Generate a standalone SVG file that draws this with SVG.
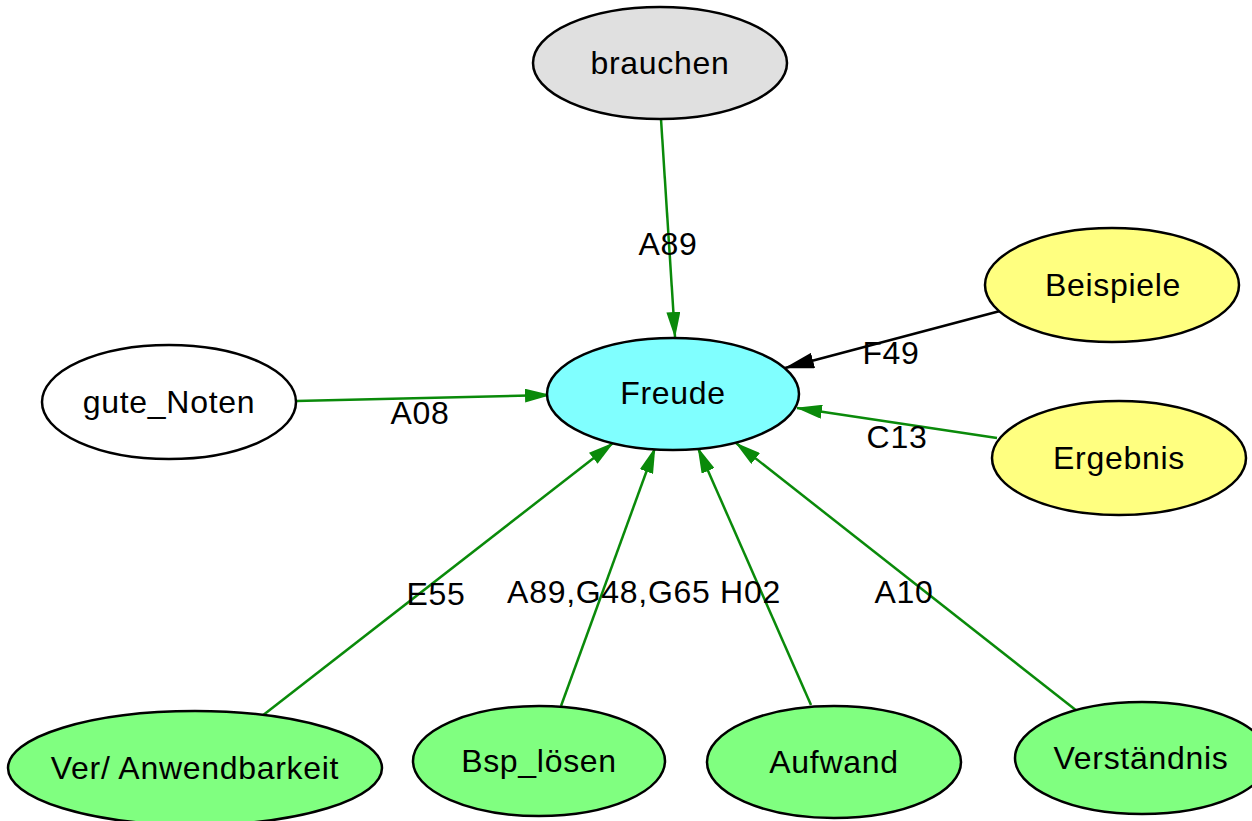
<svg xmlns="http://www.w3.org/2000/svg" width="1252" height="821" viewBox="0 0 1252 821">
<style>
.n{stroke:#000;stroke-width:2.5}
.t{font-family:"Liberation Sans",Arial,sans-serif;font-size:32px;letter-spacing:0.7px;fill:#000;text-anchor:middle}
.e{fill:none;stroke-width:2.5}
.g{stroke:#0a8a0a}
.k{stroke:#000}
</style>
<defs>
<marker id="ag" markerUnits="userSpaceOnUse" markerWidth="26" markerHeight="14" refX="25" refY="7" orient="auto"><path d="M0,0 L26,7 L0,14 z" fill="#0a8a0a"/></marker>
<marker id="ak" markerUnits="userSpaceOnUse" markerWidth="30" markerHeight="16" refX="29" refY="8" orient="auto"><path d="M0,0 L30,8 L0,16 z" fill="#000"/></marker>
</defs>
<rect width="1252" height="821" fill="#fff"/>
<g id="edges">
<line class="e g" x1="661" y1="119" x2="675" y2="337" marker-end="url(#ag)"/>
<line class="e k" x1="1000" y1="311" x2="785" y2="368" marker-end="url(#ak)"/>
<line class="e g" x1="997" y1="438" x2="797" y2="408" marker-end="url(#ag)"/>
<line class="e g" x1="296" y1="401" x2="550" y2="395" marker-end="url(#ag)"/>
<line class="e g" x1="262" y1="716" x2="613" y2="443" marker-end="url(#ag)"/>
<line class="e g" x1="561" y1="706" x2="655" y2="448" marker-end="url(#ag)"/>
<line class="e g" x1="811" y1="705" x2="698" y2="448" marker-end="url(#ag)"/>
<line class="e g" x1="1077" y1="711" x2="736" y2="443" marker-end="url(#ag)"/>
<text class="t" x="668" y="255">A89</text>
<text class="t" x="891" y="364">F49</text>
<text class="t" x="897" y="448">C13</text>
<text class="t" x="420" y="424">A08</text>
<text class="t" x="436" y="605">E55</text>
<text class="t" x="644" y="603">A89,G48,G65 H02</text>
<text class="t" x="904" y="603">A10</text>
</g>
<g id="brauchen"><ellipse class="n" cx="660" cy="63" rx="127" ry="56" fill="#e0e0e0"/><text class="t" x="660" y="74">brauchen</text></g>
<g id="Freude"><ellipse class="n" cx="673" cy="394" rx="126" ry="56" fill="#80ffff"/><text class="t" x="673" y="404">Freude</text></g>
<g id="Beispiele"><ellipse class="n" cx="1112" cy="285" rx="127" ry="57" fill="#ffff80"/><text class="t" x="1113" y="296">Beispiele</text></g>
<g id="Ergebnis"><ellipse class="n" cx="1119" cy="458" rx="127" ry="57" fill="#ffff80"/><text class="t" x="1119" y="469">Ergebnis</text></g>
<g id="gute_Noten"><ellipse class="n" cx="169" cy="402" rx="127" ry="57" fill="#fff"/><text class="t" x="169" y="413">gute_Noten</text></g>
<g id="Ver_Anwendbarkeit"><ellipse class="n" cx="195" cy="768" rx="187" ry="57" fill="#80ff80"/><text class="t" x="195" y="779">Ver/ Anwendbarkeit</text></g>
<g id="Bsp_loesen"><ellipse class="n" cx="539" cy="761" rx="126" ry="55" fill="#80ff80"/><text class="t" x="539" y="772">Bsp_lösen</text></g>
<g id="Aufwand"><ellipse class="n" cx="834" cy="762" rx="127" ry="56" fill="#80ff80"/><text class="t" x="834" y="773">Aufwand</text></g>
<g id="Verstaendnis"><ellipse class="n" cx="1142" cy="758" rx="127" ry="56" fill="#80ff80"/><text class="t" x="1141" y="769">Verständnis</text></g>
</svg>
